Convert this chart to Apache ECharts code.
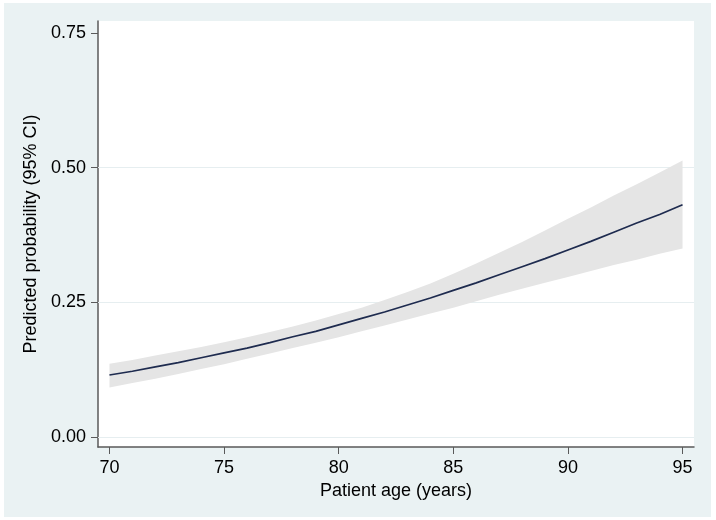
<!DOCTYPE html>
<html>
<head>
<meta charset="utf-8">
<script src="https://cdn.jsdelivr.net/npm/echarts@6/dist/echarts.min.js"></script>
<style>html,body{margin:0;padding:0;background:#fff}#c{width:716px;height:520px}</style>
</head>
<body>
<div id="c"></div>
<script>
// Data
var ages = [70,71,72,73,74,75,76,77,78,79,80,81,82,83,84,85,86,87,88,89,90,91,92,93,94,95];
var predicted = [0.115,0.122,0.130,0.138,0.147,0.156,0.165,0.175,0.186,0.196,0.208,0.220,0.232,0.245,0.258,0.272,0.286,0.301,0.316,0.331,0.347,0.363,0.380,0.397,0.413,0.431];
var upperCI = [0.136,0.143,0.151,0.159,0.167,0.176,0.185,0.195,0.205,0.216,0.228,0.240,0.254,0.269,0.285,0.303,0.322,0.342,0.362,0.383,0.405,0.426,0.448,0.469,0.491,0.513];
var lowerCI = [0.092,0.100,0.108,0.117,0.126,0.135,0.145,0.155,0.165,0.175,0.185,0.196,0.207,0.218,0.229,0.240,0.252,0.264,0.275,0.286,0.297,0.308,0.319,0.329,0.340,0.350];
var xTicks = [70,75,80,85,90,95];
var yTicks = [0,0.25,0.5,0.75];
var yGrid = [0,0.25,0.5];

var FONT = '"Liberation Sans", Arial, sans-serif';
var chart = echarts.init(document.getElementById('c'), null, {renderer:'canvas'});
var bandData = ages.map(function(a,i){return [a, lowerCI[i], upperCI[i]];});
var lineData = ages.map(function(a,i){return [a, predicted[i]];});

chart.setOption({
  animation:false,
  backgroundColor:'#ffffff',
  graphic:[{type:'rect', z:-10, silent:true, shape:{x:4,y:3,width:707,height:514}, style:{fill:'#EAF2F3'}}],
  grid:{left:98, top:21, right:22, bottom:73, show:true, backgroundColor:'#ffffff', borderWidth:0, containLabel:false},
  xAxis:{
    type:'value', min:69.5, max:95.5,
    name:'Patient age (years)', nameLocation:'middle', nameGap:29,
    nameTextStyle:{fontFamily:FONT, fontSize:18, color:'#000'},
    axisLine:{show:true, onZero:false, lineStyle:{color:'#5a5a5a', width:1.5}},
    axisTick:{show:true, length:7, customValues:xTicks, lineStyle:{color:'#5a5a5a', width:1}},
    axisLabel:{customValues:xTicks, margin:12, fontFamily:FONT, fontSize:18, color:'#000'},
    splitLine:{show:false}
  },
  yAxis:{
    type:'value', min:-0.0186, max:0.772,
    name:'Predicted probability (95% CI)', nameLocation:'middle', nameGap:54,
    nameTextStyle:{fontFamily:FONT, fontSize:18, color:'#000'},
    axisLine:{show:true, onZero:false, lineStyle:{color:'#5a5a5a', width:1.5}},
    axisTick:{show:true, length:7, customValues:yTicks, lineStyle:{color:'#5a5a5a', width:1}},
    axisLabel:{customValues:yTicks, margin:12, fontFamily:FONT, fontSize:18, color:'#000',
      formatter:function(v){return v.toFixed(2);}},
    splitLine:{show:false}
  },
  series:[
    {type:'custom', data:bandData, silent:true, z:2,
      encode:{x:0, y:[1,2]},
      renderItem:function(params, api){
        if (params.dataIndex !== 0) return null;
        var pts = [];
        for (var i=0;i<ages.length;i++) pts.push(api.coord([ages[i], upperCI[i]]));
        for (var j=ages.length-1;j>=0;j--) pts.push(api.coord([ages[j], lowerCI[j]]));
        return {type:'polygon', shape:{points:pts}, style:{fill:'#E5E5E5', stroke:null}};
      },
      markLine:{silent:true, symbol:'none', label:{show:false}, z:1,
        lineStyle:{color:'#E6EEF0', width:1, type:'solid'},
        data:yGrid.map(function(v){return {yAxis:v};})}},
    {type:'line', data:lineData, symbol:'none', silent:true, z:3, lineStyle:{color:'#1E2B4F', width:1.7}}
  ]
});
</script>
</body>
</html>
